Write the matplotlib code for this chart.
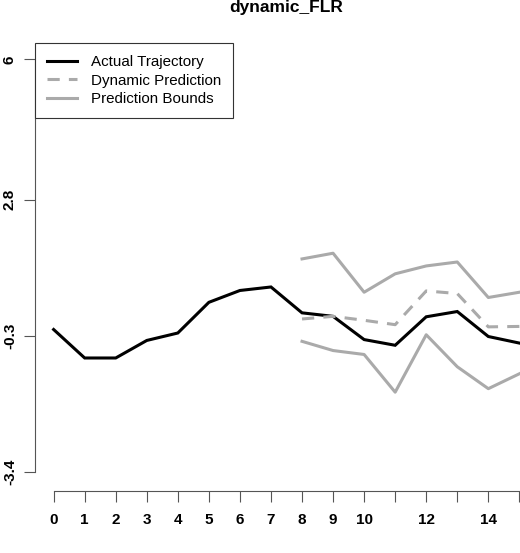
import matplotlib
matplotlib.use("Agg")
import matplotlib.pyplot as plt
from matplotlib.lines import Line2D

plt.rcParams['font.family'] = ['Liberation Sans', 'DejaVu Sans']

time_actual = list(range(0, 16))
actual = [-0.16, -0.81, -0.81, -0.41, -0.24, 0.46, 0.73, 0.81, 0.22, 0.14, -0.39, -0.52, 0.13, 0.25, -0.32, -0.47]
time_pred = list(range(8, 16))
prediction = [0.08, 0.14, 0.05, -0.05, 0.72, 0.66, -0.10, -0.09]
upper = [1.45, 1.58, 0.69, 1.11, 1.29, 1.38, 0.57, 0.69]
lower = [-0.43, -0.64, -0.73, -1.59, -0.28, -1.01, -1.51, -1.17]
y_ticks = [-3.4, -0.3, 2.8, 6]
y_labels = ['-3.4', '-0.3', '2.8', '6']
x_ticks = list(range(0, 16))
x_labels = ['0', '1', '2', '3', '4', '5', '6', '7', '8', '9', '10', '', '12', '', '14', '']

gray = '#aaaaaa'
fig = plt.figure(figsize=(5.2, 5.53), dpi=100)
ax = fig.add_axes([35/520, 1-488/553, 503/520, 445/553])
ax.plot(time_actual, actual, color='black', lw=2.2, solid_joinstyle='miter')
ax.plot(time_pred, prediction, color=gray, lw=2.2, ls=(0, (4, 3)))
ax.plot(time_pred, upper, color=gray, lw=2.2)
ax.plot(time_pred, lower, color=gray, lw=2.2)

ax.set_xlim(-0.6, 15.6)
ax.set_ylim(-3.776, 6.376)
for s in ['top', 'right']:
    ax.spines[s].set_visible(False)
ax.spines['left'].set_bounds(-3.4, 6)
ax.spines['bottom'].set_bounds(0, 15)
ax.spines['left'].set_color('#555555')
ax.spines['bottom'].set_color('#555555')
ax.spines['bottom'].set_position(('outward', 2))
ax.set_yticks(y_ticks)
ax.set_yticklabels(y_labels, rotation=90, va='center', fontweight='bold', fontsize=11)
ax.set_xticks(x_ticks)
ax.set_xticklabels(x_labels, fontweight='bold', fontsize=11)
ax.tick_params(axis='both', length=8, color='#555555', pad=8)
ax.tick_params(axis='y', pad=5)

ax.set_title('dynamic_FLR', fontweight='bold', fontsize=12.5, pad=22)

handles = [Line2D([], [], color='black', lw=2.2),
           Line2D([], [], color=gray, lw=2.2, ls=(0, (4, 3))),
           Line2D([], [], color=gray, lw=2.2)]
leg = ax.legend(handles, ['Actual Trajectory', 'Dynamic Prediction', 'Prediction Bounds'],
                loc='upper left', bbox_to_anchor=(0, 1), borderaxespad=0, fancybox=False,
                edgecolor='#333333', framealpha=1, fontsize=10.9, handlelength=2.0,
                labelspacing=0.3, borderpad=0.8, handletextpad=0.9)
leg.get_frame().set_linewidth(0.8)

fig.savefig('out.png', dpi=100)
